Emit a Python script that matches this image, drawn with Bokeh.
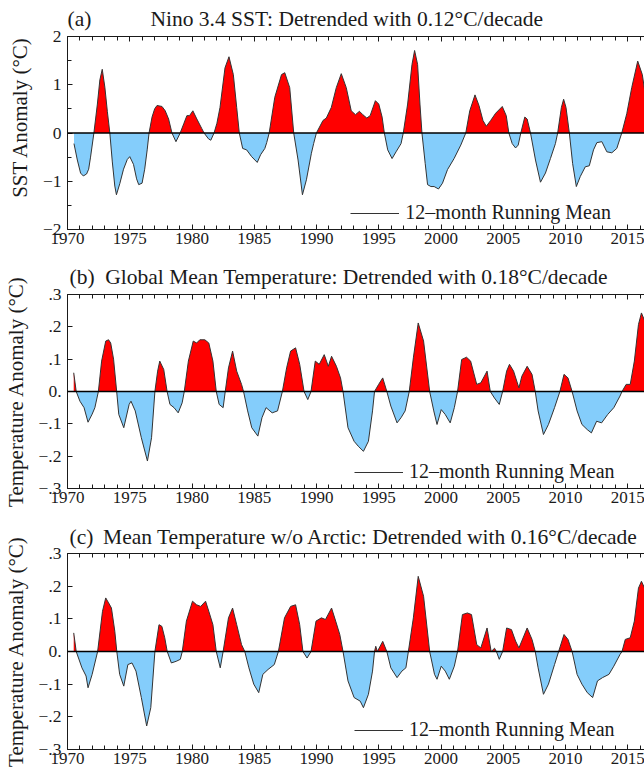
import numpy as np
from bokeh.plotting import figure
from bokeh.models import (Range1d, FixedTicker, LinearAxis, Span, Legend,
                          LegendItem, ColumnDataSource)
from bokeh.core.properties import value
from bokeh.layouts import column
from bokeh.embed import file_html
from bokeh.resources import INLINE

# ---------------- data ----------------
# (a) Nino 3.4 SST anomaly, 12-month running mean (deg C)
nino_year = [1970.52, 1970.79, 1971.05, 1971.27, 1971.53, 1971.7, 1971.85, 1972.12, 1972.4, 1972.6,
             1972.79, 1973.0, 1973.2, 1973.4, 1973.6, 1973.8, 1973.93, 1974.2, 1974.5, 1974.8,
             1975.0, 1975.3, 1975.55, 1975.72, 1975.99, 1976.2, 1976.4, 1976.55, 1976.79, 1977.0,
             1977.19, 1977.59, 1977.85, 1978.12, 1978.39, 1978.71, 1979.05, 1979.35, 1979.59, 1979.8,
             1980.07, 1980.39, 1980.79, 1980.97, 1981.32, 1981.51, 1981.77, 1982.0, 1982.25, 1982.65,
             1982.97, 1983.32, 1983.59, 1983.8, 1984.07, 1984.39, 1984.79, 1985.24, 1985.51, 1985.85,
             1986.0, 1986.2, 1986.65, 1987.19, 1987.45, 1987.85, 1988.17, 1988.52, 1988.87, 1989.19,
             1989.59, 1989.77, 1989.99, 1990.52, 1990.79, 1991.19, 1991.59, 1991.99, 1992.39, 1992.79,
             1993.13, 1993.45, 1993.72, 1994.04, 1994.31, 1994.73, 1995.0, 1995.27, 1995.45, 1995.72,
             1996.07, 1996.39, 1996.79, 1996.97, 1997.32, 1997.67, 1997.88, 1998.12, 1998.31, 1998.47,
             1998.73, 1998.92, 1999.19, 1999.45, 1999.8, 2000.12, 2000.52, 2001.05, 2001.59, 2001.99,
             2002.31, 2002.73, 2003.05, 2003.37, 2003.64, 2003.99, 2004.39, 2004.92, 2005.24, 2005.45,
             2005.72, 2005.99, 2006.2, 2006.41, 2006.73, 2006.92, 2007.19, 2007.59, 2007.99, 2008.39,
             2008.79, 2009.19, 2009.37, 2009.67, 2009.85, 2010.04, 2010.31, 2010.57, 2010.87, 2011.19,
             2011.59, 2011.91, 2012.25, 2012.52, 2012.92, 2013.32, 2013.72, 2014.12, 2014.52, 2014.92,
             2015.32, 2015.8, 2016.17, 2016.44, 2016.75]
nino_sst = [-0.22, -0.56, -0.83, -0.89, -0.85, -0.75, -0.5, 0.0, 0.6, 1.1,
            1.32, 0.95, 0.45, 0.0, -0.6, -1.1, -1.28, -1.05, -0.75, -0.55,
            -0.49, -0.65, -0.95, -1.07, -1.04, -0.75, -0.35, 0.0, 0.33, 0.5,
            0.57, 0.55, 0.46, 0.29, 0.0, -0.18, 0.0, 0.2, 0.36, 0.36,
            0.46, 0.29, 0.09, 0.0, -0.12, -0.15, 0.0, 0.2, 0.53, 1.35,
            1.58, 1.21, 0.53, 0.0, -0.32, -0.35, -0.49, -0.61, -0.45, -0.32,
            -0.2, 0.0, 0.74, 1.21, 1.25, 0.94, 0.0, -0.56, -1.28, -0.97,
            -0.42, -0.22, 0.0, 0.26, 0.31, 0.53, 0.94, 1.23, 0.94, 0.46,
            0.38, 0.45, 0.38, 0.31, 0.36, 0.67, 0.6, 0.33, 0.0, -0.35,
            -0.53, -0.39, -0.22, 0.0, 0.6, 1.42, 1.71, 1.42, 0.6, 0.0,
            -0.63, -1.07, -1.11, -1.11, -1.16, -1.04, -0.76, -0.53, -0.25, 0.0,
            0.46, 0.79, 0.57, 0.26, 0.14, 0.26, 0.41, 0.55, 0.36, 0.0,
            -0.22, -0.31, -0.25, 0.0, 0.33, 0.29, 0.0, -0.56, -1.02, -0.83,
            -0.53, -0.22, 0.0, 0.53, 0.7, 0.53, 0.0, -0.63, -1.11, -0.9,
            -0.7, -0.68, -0.35, -0.2, -0.18, -0.39, -0.41, -0.32, 0.0, 0.4,
            0.94, 1.49, 1.21, 0.74, 0.2]

# (b) Global mean temperature anomaly, detrended (deg C)
glob_year = [1970.5, 1970.7, 1971.0, 1971.33, 1971.65, 1971.98, 1972.2, 1972.48, 1972.74, 1973.07,
             1973.3, 1973.47, 1973.7, 1973.95, 1974.12, 1974.52, 1974.95, 1975.1, 1975.44, 1975.93,
             1976.42, 1976.75, 1977.02, 1977.24, 1977.41, 1977.73, 1978.0, 1978.23, 1978.56, 1978.89,
             1979.21, 1979.38, 1979.71, 1980.1, 1980.37, 1980.63, 1981.03, 1981.35, 1981.68, 1981.95,
             1982.18, 1982.5, 1982.67, 1982.93, 1983.26, 1983.59, 1983.98, 1984.14, 1984.47, 1984.8,
             1985.29, 1985.62, 1985.95, 1986.44, 1986.87, 1987.26, 1987.6, 1987.92, 1988.32, 1988.65,
             1989.0, 1989.3, 1989.56, 1989.9, 1990.22, 1990.62, 1990.95, 1991.21, 1991.6, 1991.93,
             1992.13, 1992.53, 1993.02, 1993.35, 1993.77, 1994.17, 1994.5, 1994.66, 1994.99, 1995.32,
             1995.65, 1995.97, 1996.47, 1996.79, 1997.12, 1997.45, 1997.78, 1998.17, 1998.6, 1999.09,
             1999.42, 1999.68, 2000.02, 2000.34, 2000.74, 2001.07, 2001.33, 2001.66, 2002.05, 2002.38,
             2002.87, 2003.2, 2003.7, 2003.96, 2004.29, 2004.68, 2004.95, 2005.27, 2005.5, 2005.83,
             2006.26, 2006.49, 2006.92, 2007.31, 2007.57, 2007.8, 2008.23, 2008.63, 2009.12, 2009.55,
             2009.88, 2010.2, 2010.53, 2010.93, 2011.32, 2011.75, 2012.08, 2012.5, 2012.9, 2013.39,
             2013.88, 2014.38, 2014.54, 2014.87, 2015.2, 2015.53, 2015.86, 2016.1, 2016.4, 2016.7]
glob_temp = [0.058, 0.0, -0.03, -0.05, -0.095, -0.07, -0.05, 0.0, 0.094, 0.156,
             0.16, 0.15, 0.1, 0.0, -0.071, -0.112, -0.04, -0.03, -0.06, -0.143,
             -0.215, -0.143, 0.0, 0.063, 0.094, 0.068, 0.0, -0.04, -0.05, -0.066,
             -0.035, 0.0, 0.094, 0.156, 0.15, 0.16, 0.16, 0.15, 0.094, 0.0,
             -0.04, -0.05, 0.0, 0.073, 0.125, 0.063, 0.022, 0.0, -0.06, -0.112,
             -0.138, -0.081, -0.05, -0.066, -0.06, 0.0, 0.073, 0.125, 0.135, 0.084,
             0.0, -0.025, 0.0, 0.094, 0.084, 0.114, 0.078, 0.109, 0.078, 0.042,
             0.0, -0.112, -0.154, -0.169, -0.185, -0.154, -0.06, 0.0, 0.022, 0.042,
             0.0, -0.045, -0.097, -0.081, -0.06, 0.0, 0.104, 0.212, 0.156, 0.0,
             -0.06, -0.102, -0.056, -0.071, -0.097, -0.05, 0.0, 0.099, 0.106, 0.094,
             0.022, 0.027, 0.063, 0.0, -0.02, -0.04, 0.0, 0.063, 0.084, 0.063,
             0.011, 0.047, 0.078, 0.053, 0.0, -0.06, -0.133, -0.102, -0.05, 0.0,
             0.053, 0.042, 0.0, -0.06, -0.102, -0.118, -0.128, -0.092, -0.097, -0.071,
             -0.05, -0.014, 0.0, 0.022, 0.022, 0.094, 0.207, 0.243, 0.215, 0.17]

# (c) Mean temperature without Arctic, detrended (deg C)
noarc_year = [1970.5, 1970.7, 1971.16, 1971.49, 1971.65, 1971.98, 1972.42, 1972.81, 1973.07, 1973.3,
              1973.53, 1973.8, 1973.96, 1974.19, 1974.52, 1974.85, 1975.18, 1975.5, 1975.93, 1976.36,
              1976.69, 1977.02, 1977.35, 1977.58, 1977.81, 1978.01, 1978.34, 1978.73, 1979.06, 1979.22,
              1979.55, 1980.04, 1980.37, 1980.7, 1981.09, 1981.35, 1981.68, 1981.95, 1982.27, 1982.5,
              1982.93, 1983.26, 1983.59, 1983.98, 1984.24, 1984.57, 1984.96, 1985.36, 1985.69, 1986.11,
              1986.61, 1986.94, 1987.43, 1987.92, 1988.32, 1988.65, 1988.91, 1989.24, 1989.56, 1989.96,
              1990.39, 1990.72, 1991.21, 1991.54, 1991.87, 1992.13, 1992.53, 1993.02, 1993.51, 1993.77,
              1994.17, 1994.5, 1994.66, 1994.76, 1994.89, 1995.32, 1995.65, 1995.97, 1996.47, 1996.86,
              1997.18, 1997.38, 1997.78, 1998.17, 1998.6, 1999.09, 1999.48, 1999.68, 2000.02, 2000.34,
              2000.67, 2001.07, 2001.33, 2001.72, 2002.12, 2002.45, 2002.87, 2003.2, 2003.7, 2004.03,
              2004.3, 2004.45, 2004.68, 2004.95, 2005.27, 2005.66, 2005.99, 2006.26, 2006.49, 2006.92,
              2007.31, 2007.57, 2007.8, 2008.23, 2008.63, 2009.12, 2009.45, 2009.88, 2010.2, 2010.53,
              2010.93, 2011.32, 2011.75, 2012.18, 2012.57, 2012.97, 2013.49, 2013.88, 2014.38, 2014.54,
              2014.8, 2015.2, 2015.53, 2015.86, 2016.1, 2016.4, 2016.7]
noarc_temp = [0.057, 0.0, -0.05, -0.075, -0.111, -0.07, 0.0, 0.123, 0.164, 0.149,
              0.133, 0.062, 0.0, -0.07, -0.106, -0.04, -0.035, -0.06, -0.141, -0.228,
              -0.172, 0.0, 0.082, 0.077, 0.042, 0.0, -0.035, -0.03, -0.024, 0.0,
              0.093, 0.154, 0.143, 0.138, 0.154, 0.123, 0.082, 0.0, -0.05, 0.0,
              0.103, 0.133, 0.082, 0.021, 0.0, -0.05, -0.1, -0.126, -0.07, -0.055,
              -0.04, 0.0, 0.103, 0.138, 0.143, 0.082, 0.0, -0.02, 0.0, 0.093,
              0.103, 0.098, 0.133, 0.093, 0.052, 0.0, -0.09, -0.141, -0.152, -0.172,
              -0.131, -0.06, 0.0, 0.016, 0.0, 0.031, 0.0, -0.05, -0.08, -0.06,
              -0.05, 0.0, 0.103, 0.23, 0.169, 0.0, -0.07, -0.085, -0.045, -0.06,
              -0.085, -0.045, 0.0, 0.113, 0.118, 0.113, 0.021, 0.011, 0.072, 0.0,
              0.01, 0.0, -0.024, 0.0, 0.072, 0.067, 0.032, 0.011, 0.032, 0.072,
              0.037, 0.0, -0.05, -0.131, -0.1, -0.04, 0.0, 0.052, 0.037, 0.0,
              -0.07, -0.1, -0.126, -0.141, -0.09, -0.08, -0.07, -0.045, -0.009, 0.0,
              0.037, 0.042, 0.093, 0.194, 0.215, 0.19, 0.15]

year_ticks = [1970, 1975, 1980, 1985, 1990, 1995, 2000, 2005, 2010, 2015]
year_minor = list(range(1970, 2018))
sst_ticks = [-2, -1, 0, 1, 2]
sst_tick_labels = ["\u22122", "\u22121", "0", "1", "2"]
temp_ticks = [-0.3, -0.2, -0.1, 0.0, 0.1, 0.2, 0.3]
temp_tick_labels = ["\u2212.3", "\u2212.2", "\u2212.1", "0.", ".1", ".2", ".3"]

# ---------------- styling ----------------
FONT = "Liberation Serif"
RED = "#ff0000"
BLUE = "#84cdfb"
INK = "#1a1a1a"
FRAME_W = 580
PX_PER_YEAR = 12.45
X_END = 1970 + FRAME_W / PX_PER_YEAR
NB = "\u00a0"


def split_fill(x, y):
    xs, ys = [x[0]], [y[0]]
    for i in range(1, len(x)):
        y0, y1 = y[i - 1], y[i]
        if (y0 > 0 > y1) or (y0 < 0 < y1):
            xc = x[i - 1] + (x[i] - x[i - 1]) * y0 / (y0 - y1)
            xs.append(xc)
            ys.append(0.0)
        xs.append(x[i])
        ys.append(y[i])
    xs = np.array(xs)
    ys = np.array(ys)
    return xs, np.maximum(ys, 0.0), np.minimum(ys, 0.0)


def style_axis(ax, show_labels=True):
    ax.axis_line_color = INK
    ax.axis_line_width = 1
    ax.major_tick_line_color = INK
    ax.minor_tick_line_color = INK
    ax.major_tick_in = 5
    ax.major_tick_out = 0
    ax.minor_tick_in = 4
    ax.minor_tick_out = 0
    ax.major_label_text_font = FONT
    if show_labels:
        ax.major_label_text_color = INK
        ax.major_label_text_font_size = "17px"
    else:
        ax.major_label_text_color = None
        ax.major_label_text_font_size = "1px"
        ax.major_label_standoff = 0


def make_panel(years, vals, yticks, ylabels, yminor, yrange, top, fh, bottom,
               title, title_offset, title_standoff, ylab, leg_y):
    p = figure(frame_width=FRAME_W, frame_height=fh,
               x_range=Range1d(1970, X_END), y_range=Range1d(*yrange),
               output_backend="svg", toolbar_location=None,
               x_axis_location=None, y_axis_location=None,
               min_border_left=64, min_border_right=0,
               min_border_top=top, min_border_bottom=bottom,
               background_fill_color="white", border_fill_color="white")
    p.outline_line_color = None
    p.grid.visible = False

    p.title.text = title
    p.title.align = "left"
    p.title.vertical_align = "middle"
    p.title.offset = title_offset
    p.title.standoff = title_standoff
    p.title.text_font = FONT
    p.title.text_font_size = "21.5px"
    p.title.text_font_style = "normal"
    p.title.text_color = INK

    xs, pos, neg = split_fill(years, vals)
    fsrc = ColumnDataSource(dict(x=xs, pos=pos, neg=neg, zero=np.zeros_like(xs)))
    p.varea(x="x", y1="zero", y2="pos", source=fsrc, fill_color=RED)
    p.varea(x="x", y1="neg", y2="zero", source=fsrc, fill_color=BLUE)
    lsrc = ColumnDataSource(dict(x=years, y=vals))
    line_r = p.line(x="x", y="y", source=lsrc, line_color="#333333", line_width=1)

    p.add_layout(Span(location=0, dimension="width", line_color="black", line_width=1.5))

    bottom_ax = LinearAxis(ticker=FixedTicker(ticks=year_ticks, minor_ticks=year_minor))
    style_axis(bottom_ax)
    bottom_ax.major_label_standoff = 3
    p.add_layout(bottom_ax, "below")
    top_ax = LinearAxis(ticker=FixedTicker(ticks=year_ticks, minor_ticks=year_minor))
    style_axis(top_ax, show_labels=False)
    p.add_layout(top_ax, "above")

    left_ax = LinearAxis(ticker=FixedTicker(ticks=yticks, minor_ticks=yminor))
    style_axis(left_ax)
    left_ax.major_label_text_font_size = "17.5px"
    left_ax.major_label_standoff = 6
    left_ax.major_label_overrides = {t: s for t, s in zip(yticks, ylabels)}
    left_ax.axis_label = ylab
    left_ax.axis_label_standoff = 8
    left_ax.axis_label_text_font = FONT
    left_ax.axis_label_text_font_size = "21px"
    left_ax.axis_label_text_font_style = "normal"
    left_ax.axis_label_text_color = INK
    p.add_layout(left_ax, "left")

    legend = Legend(items=[LegendItem(label=value("12\u2013month Running Mean"),
                                      renderers=[line_r])],
                    location=(287, leg_y), padding=0, margin=0, spacing=0,
                    border_line_color=None, background_fill_alpha=0,
                    glyph_width=49, glyph_height=20, label_height=20,
                    label_standoff=6, label_text_font=FONT,
                    label_text_font_size="20px", label_text_color=INK,
                    label_text_baseline="middle")
    p.add_layout(legend)
    return p


pa = make_panel(nino_year, nino_sst, sst_ticks, sst_tick_labels, [-1.5, -0.5, 0.5, 1.5],
                (-2, 2), 35, 193, 27,
                "(a)" + NB * 11 + "Nino 3.4 SST: Detrended with 0.12\u00b0C/decade", 0, 10,
                NB * 6 + "SST Anomaly (\u00b0C)", 5)
pb = make_panel(glob_year, glob_temp, temp_ticks, temp_tick_labels, [],
                (-0.3, 0.3), 38, 194, 26,
                "(b)" + NB * 2 + "Global Mean Temperature: Detrended with 0.18\u00b0C/decade", 2, 9,
                "Temperature Anomaly (\u00b0C)", 5)
pc = make_panel(noarc_year, noarc_temp, temp_ticks, temp_tick_labels, [],
                (-0.3, 0.3), 39, 196, 28,
                "(c)" + NB + "\u2009" + "Mean Temperature w/o Arctic: Detrended with 0.16\u00b0C/decade", 2, 7,
                "Temperature Anomaly (\u00b0C)", 8)

layout = column(pa, pb, pc, spacing=0)
open("out.html", "w").write(file_html(layout, INLINE))
